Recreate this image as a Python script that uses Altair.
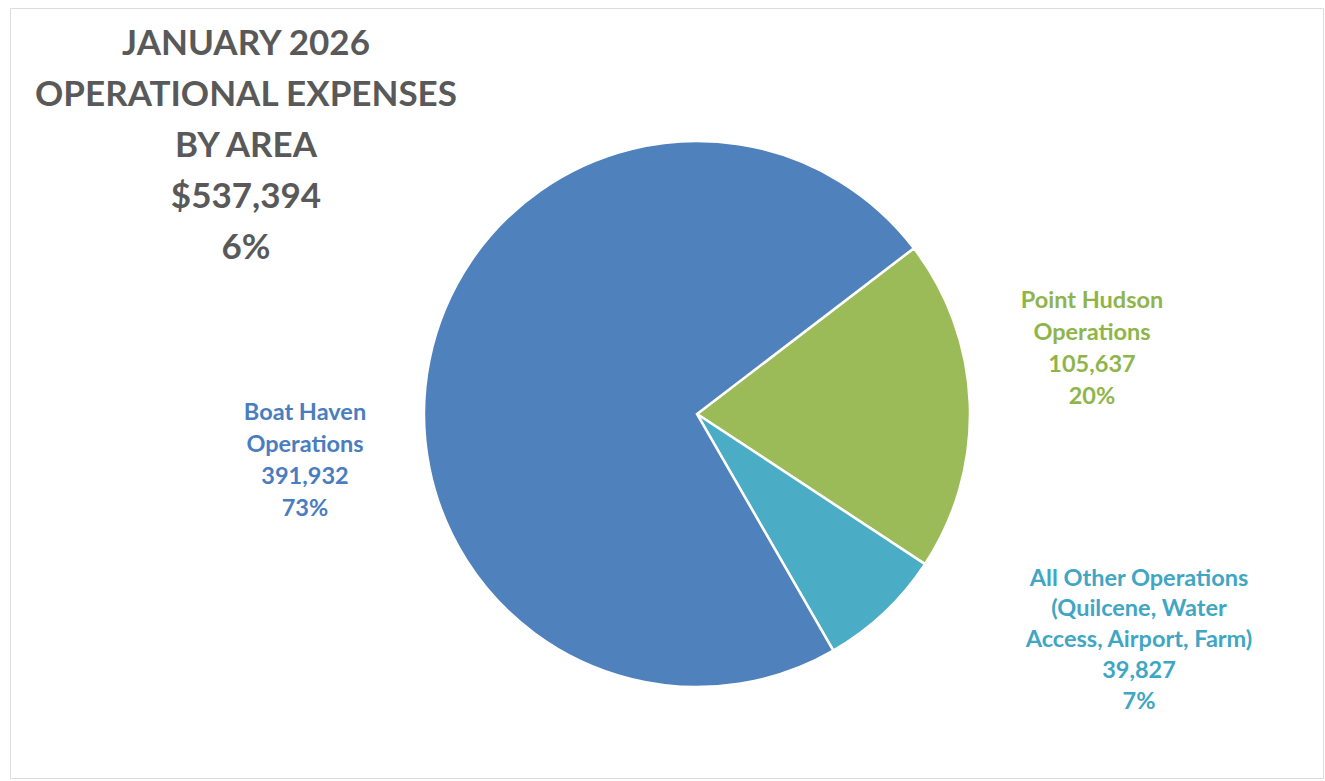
import math
import altair as alt
import pandas as pd

# ---- data ----
areas = ["Point Hudson Operations",
         "All Other Operations (Quilcene, Water Access, Airport, Farm)",
         "Boat Haven Operations"]
amounts = [105637, 39827, 391932]
pcts = ["20%", "7%", "73%"]
label_lines = [
    ["Point Hudson", "Operations"],
    ["All Other Operations", "(Quilcene, Water", "Access, Airport, Farm)"],
    ["Boat Haven", "Operations"],
]
colors = ["#9bbb59", "#4bacc6", "#4f81bd"]
text_colors = ["#8fb54a", "#3fa6c4", "#4a7dc0"]
title_lines = ["JANUARY 2026", "OPERATIONAL EXPENSES", "BY AREA", "$537,394", "6%"]

df = pd.DataFrame({"area": areas, "amount": amounts, "ord": [0, 1, 2]})

# ---- layout ----
W, H = 1313, 770
cx, cy, R = 687, 406, 273
start = math.radians(52.6)
FONT = "Lato"

pie = alt.Chart(df).mark_arc(radius=R, stroke="white", strokeWidth=2.5).encode(
    theta=alt.Theta("amount:Q", stack=True,
                    scale=alt.Scale(range=[start, start + 2 * math.pi])),
    order=alt.Order("ord:Q"),
    color=alt.Color("area:N", scale=alt.Scale(domain=areas, range=colors), legend=None),
    x=alt.value(cx),
    y=alt.value(cy),
)


def fmt(v):
    return f"{v:,}"


def label(i, x, y, size=23.5, lh=32):
    lines = label_lines[i] + [fmt(amounts[i]), pcts[i]]
    d = pd.DataFrame({"t": ["\n".join(lines)]})
    return alt.Chart(d).mark_text(
        font=FONT, fontWeight="bold", fontSize=size, color=text_colors[i],
        align="center", baseline="middle", lineBreak="\n", lineHeight=lh,
    ).encode(text="t:N", x=alt.value(x), y=alt.value(y))


lab_ph = label(0, 1082, 293)
lab_ao = label(1, 1129, 570.5, size=23.5, lh=30.8)
lab_bh = label(2, 295, 405)

title_df = pd.DataFrame({"t": ["\n".join(title_lines)]})
title = alt.Chart(title_df).mark_text(
    font=FONT, fontWeight="bold", fontSize=35, color="#595959",
    align="center", baseline="middle", lineBreak="\n", lineHeight=51,
).encode(text="t:N", x=alt.value(236), y=alt.value(36))

chart = alt.layer(pie, lab_ph, lab_ao, lab_bh, title).properties(
    width=W, height=H,
    autosize=alt.AutoSizeParams(type="none"),
    padding={"left": 10, "top": 8, "right": 2, "bottom": 3},
).configure_view(stroke="#d9d9d9", strokeWidth=2).configure(background="white")

chart.save("out.html", embed_options={"renderer": "svg", "actions": False})
